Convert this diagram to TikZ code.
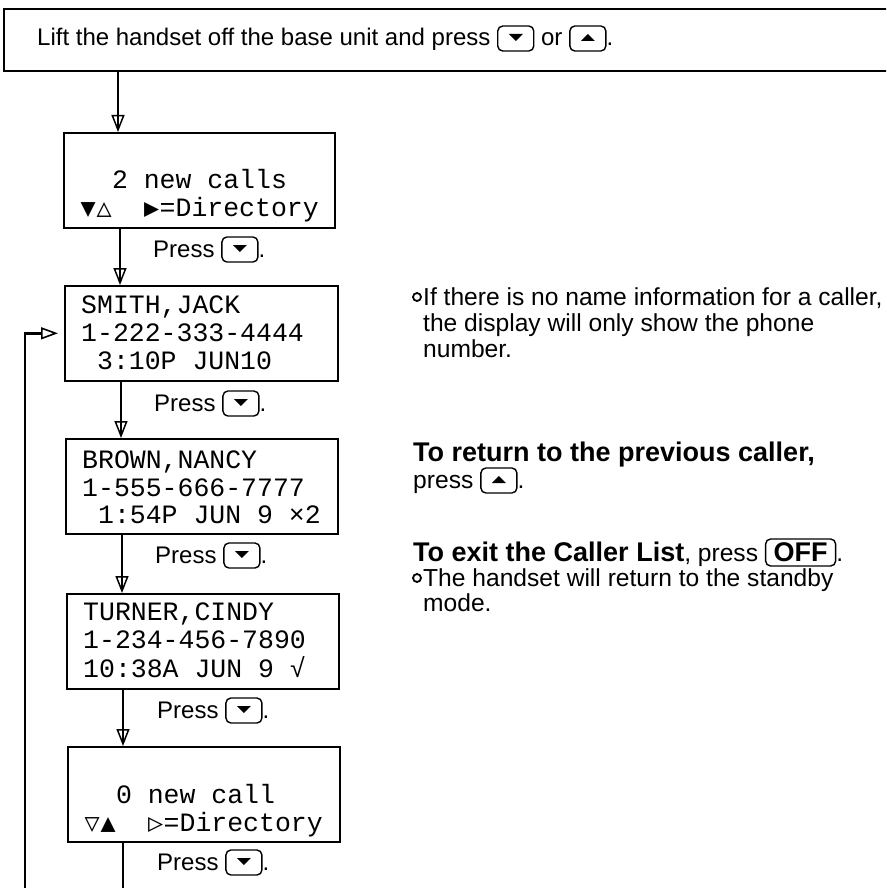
\documentclass[tikz,border=0pt]{standalone}
\usepackage{fontspec}
\setmainfont{Liberation Sans}
\newfontfamily\monof{Liberation Mono}
\newfontfamily\symf{DejaVu Sans Mono}
\usetikzlibrary{arrows.meta}
\newlength\cw \setlength\cw{15.9pt}
\newcommand\mc[1]{\makebox[\cw][c]{#1}}
\newcommand\symsz{\symf\fontsize{25}{25}\selectfont}
\newcommand\kdn{\tikz[baseline=0pt,x=1pt,y=1pt]{\draw[line width=1.4pt,rounded corners=5pt] (0,-5) rectangle (36,20); \fill (11,12) -- (25,12) -- (18,5) -- cycle;}}
\newcommand\kup{\tikz[baseline=0pt,x=1pt,y=1pt]{\draw[line width=1.4pt,rounded corners=5pt] (0,-5) rectangle (36,20); \fill (11,5) -- (25,5) -- (18,12) -- cycle;}}
\newcommand\koff{\tikz[baseline=0pt,x=1pt,y=1pt]{\draw[line width=1.4pt,rounded corners=5pt] (0,-5) rectangle (70,22); \node[anchor=base,inner sep=0pt,draw=none] (offtxt) at (35,0) {\bfseries\fontsize{27}{28}\selectfont OFF};}}
\begin{document}
\begin{tikzpicture}[x=1pt,y=-1pt,
  box/.style={draw, line width=1.6pt, minimum height=95pt, anchor=north west, inner sep=0pt},
  mono/.style={font=\monof\fontsize{26.5}{28}\selectfont, anchor=base west, inner sep=0pt},
  txt/.style={font=\fontsize{24}{28}\selectfont, anchor=base west, inner sep=0pt},
  ntxt/.style={font=\fontsize{24.6}{28}\selectfont, anchor=base west, inner sep=0pt},
  btxt/.style={font=\bfseries\fontsize{27}{28}\selectfont, anchor=base west, inner sep=0pt},
  shaft/.style={line width=1.7pt, shorten >=5pt},
  arr/.style={line width=1.7pt, -{Triangle[open, length=17pt, width=13pt, line width=1.5pt]}},
  looparr/.style={line width=2.4pt, -{Triangle[open, length=17pt, width=12pt, line width=1.6pt]}},
  bul/.style={circle, draw, line width=1.8pt, minimum size=8pt, inner sep=0pt}]
\useasboundingbox (0,0) rectangle (886,888);
\clip (0,0) rectangle (886,888);
\fill[white] (0,0) rectangle (886,888);
% top instruction box
\node[draw, line width=1.8pt, anchor=north west, minimum width=950pt, minimum height=62pt, inner sep=0pt] (top) at (3,8) {};
\node[txt] (toptext) at (37,46) {Lift the handset off the base unit and press \kdn{} or \kup.};
% display boxes
\node[box, minimum width=271pt] (b1) at (63,132) {};
\node[box, minimum width=273pt] (b2) at (64,285) {};
\node[box, minimum width=272pt] (b3) at (65,438) {};
\node[box, minimum width=272pt] (b4) at (66,593) {};
\node[box, minimum width=272pt] (b5) at (67,746) {};
% display texts
\node[mono] (t12) at (80,188) {\hphantom{00}2 new calls};
\node[mono] (t13) at (80,216) {{\symsz\mc{▼}\mc{△}}\hphantom{00}{\symsz\mc{▶}}=Directory};
\node[mono] (t21) at (81,313) {SMITH,JACK};
\node[mono] (t22) at (81,341) {1-222-333-4444};
\node[mono] (t23) at (81,369) {\hphantom{0}3:10P JUN10};
\node[mono] (t31) at (82,468) {BROWN,NANCY};
\node[mono] (t32) at (82,496) {1-555-666-7777};
\node[mono] (t33) at (82,523) {\hphantom{0}1:54P JUN 9 ×2};
\node[mono] (t41) at (83,620) {TURNER,CINDY};
\node[mono] (t42) at (83,648) {1-234-456-7890};
\node[mono] (t43) at (83,677) {10:38A JUN 9 √};
\node[mono] (t52) at (84,803) {\hphantom{00}0 new call};
\node[mono] (t53) at (84,831) {{\symsz\bfseries\mc{▽}\mc{▲}}\hphantom{00}{\symsz\bfseries\mc{▷}}=Directory};
% press labels
\node[txt] (p1) at (153,257) {Press \kdn.};
\node[txt] (p2) at (154,411) {Press \kdn.};
\node[txt] (p3) at (155,563) {Press \kdn.};
\node[txt] (p4) at (157,718) {Press \kdn.};
\node[txt] (p5) at (157,870) {Press \kdn.};
% connectors
\coordinate (a0) at (118,0);
\coordinate (a1) at (120,0);
\coordinate (a2) at (121,0);
\coordinate (a3) at (122,0);
\coordinate (a4) at (123,0);
\coordinate (lb) at (25,900);
\draw[shaft] (top.south -| a0) -- (b1.north -| a0);
\draw[arr] (top.south -| a0) -- (b1.north -| a0);
\draw[shaft] (b1.south -| a1) -- (b2.north -| a1);
\draw[arr] (b1.south -| a1) -- (b2.north -| a1);
\draw[shaft] (b2.south -| a2) -- (b3.north -| a2);
\draw[arr] (b2.south -| a2) -- (b3.north -| a2);
\draw[shaft] (b3.south -| a3) -- (b4.north -| a3);
\draw[arr] (b3.south -| a3) -- (b4.north -| a3);
\draw[shaft] (b4.south -| a4) -- (b5.north -| a4);
\draw[arr] (b4.south -| a4) -- (b5.north -| a4);
\draw[line width=1.7pt] (b5.south -| a4) -- (a4 |- lb);
\draw[looparr, shorten >=6pt] (lb) |- (b2.west);
% notes
\node[bul] (o1) at (417,297) {};
\node[ntxt] (r1) at (423,305) {If there is no name information for a caller,};
\node[ntxt] (r2) at (423,331) {the display will only show the phone};
\node[ntxt] (r3) at (423,357) {number.};
\node[btxt] (r4) at (413,461) {To return to the previous caller,};
\node[ntxt] (r5) at (413,488) {press \kup.};
\node[ntxt] (r6) at (413,561) {{\bfseries\fontsize{27}{28}\selectfont To exit the Caller List}, press \koff.};
\node[bul] (o2) at (417,578) {};
\node[ntxt] (r7) at (423,586) {The handset will return to the standby};
\node[ntxt] (r8) at (423,611) {mode.};
\end{tikzpicture}
\end{document}
